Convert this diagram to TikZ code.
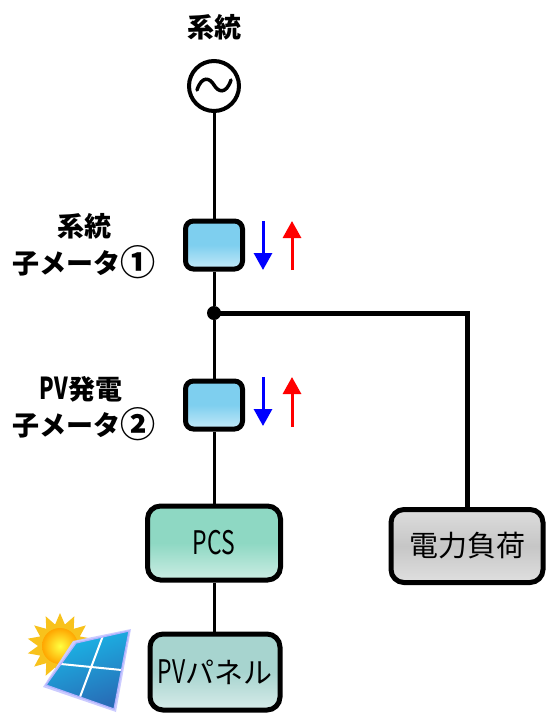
\documentclass[tikz,border=0pt]{standalone}
\usepackage{fontspec}
\setmainfont{Noto Sans CJK JP}
\usetikzlibrary{arrows.meta,shapes.geometric,calc}
\newcommand\hw[1]{\scalebox{0.79}[1.12]{#1}}
\newcommand\circnum[1]{\raisebox{-0.08em}{\scalebox{1.3}{#1}}}
\definecolor{metercol}{HTML}{7ECFEF}
\definecolor{pcscol}{HTML}{8ED8C3}
\definecolor{loadcol}{HTML}{C6C6C6}
\definecolor{pvcol}{HTML}{A7D4CF}
\definecolor{panelblue}{HTML}{2F7FD6}
\definecolor{sunyel}{HTML}{F8C21C}
\tikzset{
  lbl/.style={font=\fontsize{27}{30}\selectfont\bfseries, inner sep=0pt},
  boxtxt/.style={font=\fontsize{29}{30}\selectfont},
  meter/.style={draw, line width=5pt, rounded corners=8pt, minimum width=57pt,
    minimum height=48pt, inner sep=0pt, top color=metercol, bottom color=metercol!45!white,
    middle color=metercol},
  unit/.style={draw, line width=5pt, rounded corners=13pt, inner sep=0pt, boxtxt},
  wire/.style={line width=3pt},
  busline/.style={line width=5pt},
  flowdown/.style={line width=3pt, blue, -{Triangle[width=18pt,length=17pt]}},
  flowup/.style={line width=3pt, red, -{Triangle[width=18pt,length=17pt]}},
}
\begin{document}
\begin{tikzpicture}[x=1pt,y=-1pt]
\useasboundingbox (0,0) rectangle (547,716);

% grid source
\node[lbl] (title) at (214,27) {系統};
\node[circle, draw, line width=4pt, minimum size=50pt, inner sep=0pt] (ac) at (214,86) {};
\draw[line width=3.5pt, line cap=round]
  (197,90) .. controls (202,75) and (210,78) .. (214,85)
  .. controls (218,92) and (226,95) .. (231,80);

% meters and junction
\node[meter] (m1) at (214,245) {};
\node[circle, fill, minimum size=14pt, inner sep=0pt] (j) at (214,313) {};
\node[meter] (m2) at (214,405) {};

% meter labels
\node[lbl] (m1a) at (84,226) {系統};
\node[lbl] (m1b) at (84,262) {子メータ\circnum{①}};
\node[lbl] (m2a) at (81,389) {\hw{PV}発電};
\node[lbl] (m2b) at (84,424) {子メータ\circnum{②}};

% power flow arrows
\coordinate (b1t) at (263,221); \coordinate (b1b) at (263,270);
\coordinate (r1t) at (292,221); \coordinate (r1b) at (292,270);
\coordinate (b2t) at (263,377); \coordinate (b2b) at (263,426);
\coordinate (r2t) at (292,377); \coordinate (r2b) at (292,427);
\draw[flowdown] (b1t) -- (b1b);
\draw[flowup] (r1b) -- (r1t);
\draw[flowdown] (b2t) -- (b2b);
\draw[flowup] (r2b) -- (r2t);

% equipment
\node[unit, minimum width=133pt, minimum height=74pt,
  top color=pcscol, bottom color=pcscol!45!white, middle color=pcscol] (pcs) at (214,543) {\hw{PCS}};
\node[unit, minimum width=152pt, minimum height=73pt,
  top color=loadcol!60!white, bottom color=loadcol!55!white, middle color=loadcol] (load) at (467,546) {電力負荷};
\node[unit, minimum width=130pt, minimum height=76pt,
  top color=pvcol, bottom color=pvcol!45!white, middle color=pvcol] (pv) at (215,672) {\hw{PV}パネル};

% wiring
\draw[wire] (ac) -- (m1);
\draw[wire] (m1) -- (j);
\draw[wire] (j) -- (m2);
\draw[wire] (m2) -- (pcs);
\draw[wire] (pcs.south) -- (pv.north -| pcs.south);
\draw[busline] (j.center) -| (load);

% solar panel icon: sun behind a tilted module
\node[star, star points=14, star point ratio=1.5, minimum size=66pt, inner sep=0pt,
  fill=sunyel] (sun) at (60,646) {};
\node[circle, minimum size=36pt, inner sep=0pt, inner color=yellow!75!white, outer color=orange!70!yellow] (sunc) at (60,646) {};
\coordinate (TL) at (76,643);
\coordinate (TR) at (129,631);
\coordinate (BR) at (114,709);
\coordinate (BL) at (46,685);
\fill[white!80!blue] ($(TL)+(-3,-2)$) -- ($(TR)+(2,-2)$) -- ($(BR)+(2,3)$) -- ($(BL)+(-3,2)$) -- cycle;
\shade[top color=panelblue!55!cyan, bottom color=panelblue!85!black, shading angle=20]
  (TL) -- (TR) -- (BR) -- (BL) -- cycle;
\draw[white, line width=2pt] ($(TL)!0.5!(TR)$) -- ($(BL)!0.5!(BR)$);
\draw[white, line width=2pt] ($(TL)!0.5!(BL)$) -- ($(TR)!0.5!(BR)$);
\draw[white!70!blue, line width=1.2pt] (TL) -- (TR) -- (BR) -- (BL) -- cycle;
\end{tikzpicture}
\end{document}
